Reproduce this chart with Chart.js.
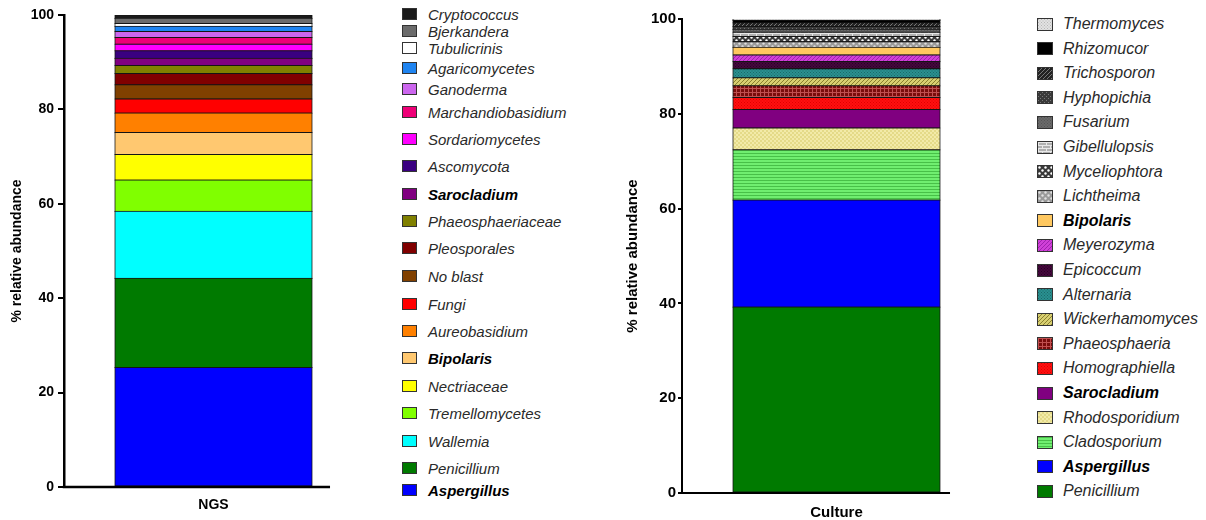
<!DOCTYPE html>
<html>
<head>
<meta charset="utf-8">
<script src="https://cdn.jsdelivr.net/npm/chart.js@4.4.1/dist/chart.umd.min.js"></script>
<style>
  html, body { margin: 0; padding: 0; background: #fff; }
  #page { position: relative; width: 1206px; height: 520px; overflow: hidden; font-family: "Liberation Sans", Arial, sans-serif; }
  .panel { position: absolute; top: 0; height: 520px; }
  .legend { position: absolute; top: 0; }
  .row { position: absolute; left: 0; display: flex; align-items: center; white-space: nowrap; font-style: italic; color: #2a2a2a; }
  .row.bold { font-weight: bold; color: #000; }
  .sw { box-sizing: border-box; border: 1px solid #333; margin-right: 11px; flex: none; }
</style>
</head>
<body>
<div id="page">
  <div class="panel" style="left:0; width:390px;"><canvas id="ngs" width="390" height="520"></canvas></div>
  <div class="panel" style="left:600px; width:420px;"><canvas id="culture" width="420" height="520"></canvas></div>
  <div class="legend" id="ngsLegend" style="left:402px;"></div>
  <div class="legend" id="cultureLegend" style="left:1037px;"></div>
</div>
<script>
// ---------- NGS: taxa from the bottom of the stack upwards (% relative abundance)
const ngsTaxa = ['Aspergillus', 'Penicillium', 'Wallemia', 'Tremellomycetes', 'Nectriaceae', 'Bipolaris',
  'Aureobasidium', 'Fungi', 'No blast', 'Pleosporales', 'Phaeosphaeriaceae', 'Sarocladium', 'Ascomycota',
  'Sordariomycetes', 'Marchandiobasidium', 'Ganoderma', 'Agaricomycetes', 'Tubulicrinis', 'Bjerkandera', 'Cryptococcus'];
const ngsValues = [25.3, 18.9, 14.2, 6.6, 5.4, 4.7, 4.1, 3.0, 3.0, 2.4, 1.7, 1.5, 1.6, 1.4, 1.4, 1.3, 1.1, 0.6, 1.1, 0.7];
const ngsColors = ['#0000ff', '#007a00', '#00ffff', '#80ff00', '#ffff00', '#ffc870', '#ff8000', '#ff0000', '#804000',
  '#800000', '#808000', '#800080', '#3a0080', '#ff00ff', '#ee0077', '#cc66ee', '#1f84f0', '#ffffff', '#6b6b6b', '#1a1a1a'];

// ---------- Culture: taxa from the bottom of the stack upwards
const cultureTaxa = ['Penicillium', 'Aspergillus', 'Cladosporium', 'Rhodosporidium', 'Sarocladium', 'Homographiella',
  'Phaeosphaeria', 'Wickerhamomyces', 'Alternaria', 'Epicoccum', 'Meyerozyma', 'Bipolaris', 'Lichtheima',
  'Myceliophtora', 'Gibellulopsis', 'Fusarium', 'Hyphopichia', 'Trichosporon', 'Rhizomucor', 'Thermomyces'];
const cultureValues = [39.2, 22.6, 10.6, 4.6, 3.9, 2.5, 2.5, 1.7, 1.9, 1.5, 1.4, 1.6, 1.2, 1.1, 0.9, 0.6, 0.6, 0.8, 0.5, 0.3];

// taxa set in bold type
const boldTaxa = ['Aspergillus', 'Bipolaris', 'Sarocladium'];

// y axis ticks
const yTicks = [0, 20, 40, 60, 80, 100];

// ---------- fill textures for the culture bar
function tile(w, h, draw) {
  const c = document.createElement('canvas');
  c.width = w; c.height = h;
  const g = c.getContext('2d');
  draw(g, w, h);
  return c;
}
function solid(col) { return tile(4, 4, (g, w, h) => { g.fillStyle = col; g.fillRect(0, 0, w, h); }); }
function dots(bg, fg, step, r) {
  return tile(step, step, (g, w, h) => {
    g.fillStyle = bg; g.fillRect(0, 0, w, h);
    g.fillStyle = fg; g.fillRect(0, 0, r, r); g.fillRect(w / 2, h / 2, r, r);
  });
}
function diag(bg, fg, step, lw) {
  return tile(step, step, (g, w, h) => {
    g.fillStyle = bg; g.fillRect(0, 0, w, h);
    g.strokeStyle = fg; g.lineWidth = lw;
    g.beginPath();
    g.moveTo(-1, h + 1); g.lineTo(w + 1, -1);
    g.moveTo(-1, 1); g.lineTo(1, -1);
    g.moveTo(w - 1, h + 1); g.lineTo(w + 1, h - 1);
    g.stroke();
  });
}
function hlines(bg, fg, step, lw) {
  return tile(4, step, (g, w, h) => {
    g.fillStyle = bg; g.fillRect(0, 0, w, h);
    g.fillStyle = fg; g.fillRect(0, 0, w, lw);
  });
}
function grid(bg, fg, step) {
  return tile(step, step, (g, w, h) => {
    g.fillStyle = bg; g.fillRect(0, 0, w, h);
    g.fillStyle = fg; g.fillRect(0, 0, w, 1); g.fillRect(0, 0, 1, h);
  });
}
function checker(a, b, s) {
  return tile(s * 2, s * 2, (g) => {
    g.fillStyle = a; g.fillRect(0, 0, s * 2, s * 2);
    g.fillStyle = b; g.fillRect(0, 0, s, s); g.fillRect(s, s, s, s);
  });
}
function blobs(bg, fg, step) {
  return tile(step, step, (g, w, h) => {
    g.fillStyle = bg; g.fillRect(0, 0, w, h);
    g.fillStyle = fg;
    g.beginPath(); g.arc(w / 4, h / 4, step / 5, 0, Math.PI * 2); g.fill();
    g.beginPath(); g.arc(3 * w / 4, 3 * h / 4, step / 5, 0, Math.PI * 2); g.fill();
  });
}
function brick(bg, fg) {
  return tile(8, 6, (g, w, h) => {
    g.fillStyle = bg; g.fillRect(0, 0, w, h);
    g.fillStyle = fg; g.fillRect(0, 0, w, 1); g.fillRect(0, 3, w, 1);
    g.fillRect(0, 0, 1, 3); g.fillRect(4, 3, 1, 3);
  });
}

const cultureTiles = [
  solid('#007a00'),                       // Penicillium
  solid('#0000ff'),                       // Aspergillus
  hlines('#70ee70', '#48c048', 3, 1),     // Cladosporium
  checker('#f2eaa8', '#e4da88', 2),       // Rhodosporidium
  solid('#800080'),                       // Sarocladium
  dots('#ff1010', '#e00000', 3, 1),       // Homographiella
  grid('#7a0c0c', '#c05050', 4),          // Phaeosphaeria
  diag('#d8cf70', '#8a8030', 4, 1),       // Wickerhamomyces
  dots('#2a9090', '#1a6a6a', 3, 1),       // Alternaria
  dots('#44083c', '#2a0026', 3, 1),       // Epicoccum
  diag('#d040d8', '#a020b0', 4, 1),       // Meyerozyma
  solid('#ffc860'),                       // Bipolaris
  blobs('#9a9a9a', '#e0e0e0', 6),         // Lichtheima
  blobs('#3a3a3a', '#ffffff', 6),         // Myceliophtora
  brick('#b0b0b0', '#e8e8e8'),            // Gibellulopsis
  dots('#6a6a6a', '#555555', 3, 1),       // Fusarium
  dots('#3a3a3a', '#7a7a7a', 4, 1),       // Hyphopichia
  diag('#222222', '#777777', 4, 1),       // Trichosporon
  solid('#000000'),                       // Rhizomucor
  dots('#e2e2e2', '#b8b8b8', 3, 1)        // Thermomyces
];

// ---------- shared drawing helpers
const FONT = '"Liberation Sans", Arial, sans-serif';

// draws the category baseline, running a little past the bar's right edge
const baseline = {
  id: 'baseline',
  afterDatasetsDraw(chart, args, opts) {
    const meta = chart.getDatasetMeta(0);
    const bar = meta.data[0];
    const area = chart.chartArea;
    const ctx = chart.ctx;
    ctx.save();
    ctx.strokeStyle = '#000';
    ctx.lineWidth = opts.width;
    ctx.beginPath();
    ctx.moveTo(area.left - opts.width / 2, area.bottom);
    ctx.lineTo(bar.x + bar.width / 2 + opts.extend, area.bottom);
    ctx.stroke();
    ctx.restore();
  }
};

function buildChart(id, label, taxa, values, fills, cfg) {
  const ctx = document.getElementById(id).getContext('2d');
  const datasets = taxa.map((name, i) => ({
    label: name,
    data: [values[i]],
    backgroundColor: fills[i],
    borderColor: '#141414',
    borderWidth: 1,
    borderSkipped: false,
    inflateAmount: 0.6,
    barPercentage: 1,
    categoryPercentage: cfg.barFrac
  }));
  return new Chart(ctx, {
    type: 'bar',
    data: { labels: [label], datasets },
    plugins: [baseline],
    options: {
      responsive: false,
      animation: false,
      layout: { padding: { top: cfg.top, right: cfg.right, left: 0, bottom: 0 } },
      plugins: {
        legend: { display: false },
        tooltip: { enabled: false },
        baseline: { width: cfg.axisWidth, extend: cfg.extend }
      },
      scales: {
        x: {
          stacked: true,
          offset: true,
          grid: { display: false, drawTicks: false },
          border: { display: false },
          ticks: { color: '#000', padding: cfg.xPad, font: { family: FONT, size: cfg.xFont, weight: 'bold' } },
          afterFit: (s) => { s.height = cfg.xHeight; }
        },
        y: {
          stacked: true,
          min: 0,
          max: 100,
          afterBuildTicks: (s) => { s.ticks = yTicks.map(v => ({ value: v })); },
          grid: { display: true, drawOnChartArea: false, tickLength: cfg.tickLen, color: '#000', lineWidth: cfg.tickWidth },
          border: { display: true, color: '#000', width: cfg.axisWidth },
          ticks: { color: '#000', padding: cfg.tickPad, font: { family: FONT, size: cfg.yFont, weight: 'bold' } },
          title: {
            display: true,
            text: '% relative abundance',
            color: '#000',
            padding: { top: cfg.titlePad, bottom: 0 },
            font: { family: FONT, size: cfg.titleFont, weight: 'bold' }
          },
          afterFit: (s) => { s.width = cfg.yWidth; }
        }
      }
    }
  });
}

const patterns = (tiles) => {
  const g = document.createElement('canvas').getContext('2d');
  return tiles.map(t => g.createPattern(t, 'repeat'));
};

buildChart('ngs', 'NGS', ngsTaxa, ngsValues, ngsColors, {
  top: 15, right: 27, barFrac: 0.659, axisWidth: 2.5, extend: 18,
  xPad: 10, xFont: 14, xHeight: 33,
  tickLen: 6, tickWidth: 2, tickPad: 4, yFont: 14,
  titlePad: 9, titleFont: 14, yWidth: 64
});

buildChart('culture', 'Culture', cultureTaxa, cultureValues, patterns(cultureTiles), {
  top: 19, right: 29, barFrac: 0.67, axisWidth: 2, extend: 10,
  xPad: 11, xFont: 15, xHeight: 27,
  tickLen: 4, tickWidth: 2, tickPad: 2, yFont: 15,
  titlePad: 24, titleFont: 15, yWidth: 82
});

// ---------- legends (listed top to bottom, i.e. reverse stacking order)
const ngsLegendRows = [14, 31, 48, 68, 89, 112, 139, 166, 194, 221, 248, 276, 304, 331, 358, 386, 413, 441, 468, 490];

function legend(el, taxa, swatch, rowY, opts) {
  const box = document.getElementById(el);
  const order = taxa.map((_, i) => i).reverse();
  order.forEach((idx, r) => {
    const row = document.createElement('div');
    row.className = 'row' + (boldTaxa.includes(taxa[idx]) ? ' bold' : '');
    row.style.fontSize = opts.font + 'px';
    row.style.height = '20px';
    row.style.top = (rowY(r) - 10) + 'px';
    const sw = document.createElement('span');
    sw.className = 'sw';
    sw.style.width = opts.sw[0] + 'px';
    sw.style.height = opts.sw[1] + 'px';
    sw.style.marginRight = opts.gap + 'px';
    swatch(sw, idx);
    const tx = document.createElement('span');
    tx.textContent = taxa[idx];
    row.appendChild(sw);
    row.appendChild(tx);
    box.appendChild(row);
  });
}

legend('ngsLegend', ngsTaxa, (sw, i) => { sw.style.background = ngsColors[i]; },
  (r) => ngsLegendRows[r], { font: 15, sw: [15, 12], gap: 11 });

legend('cultureLegend', cultureTaxa, (sw, i) => {
  sw.style.backgroundImage = 'url(' + cultureTiles[i].toDataURL() + ')';
}, (r) => 24 + r * 24.6, { font: 16, sw: [16, 13], gap: 10 });
</script>
</body>
</html>
